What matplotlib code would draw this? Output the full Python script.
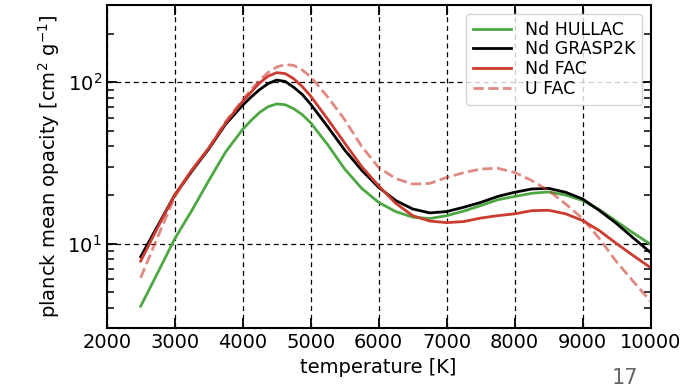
import numpy as np
import matplotlib
matplotlib.use('Agg')
import matplotlib.pyplot as plt
from matplotlib.ticker import LogLocator, NullFormatter

# temperature grid [K] (finer around the main peak)
temps = [2500, 2750, 3000, 3250, 3500, 3750, 4000, 4125, 4250, 4375,
         4500, 4625, 4750, 4875, 5000, 5250, 5500, 5750, 6000, 6250,
         6500, 6750, 7000, 7250, 7500, 7750, 8000, 8250, 8500, 8750,
         9000, 9250, 9500, 9750, 10000]

# planck mean opacity [cm^2 g^-1]
nd_hullac = [4.1, 6.6, 10.7, 16.0, 24.5, 37.0, 51.0, 58.0, 65.0, 70.5,
             73.3, 72.5, 68.5, 63.0, 56.0, 41.0, 29.0, 22.0, 18.0, 15.8,
             14.6, 14.3, 14.9, 15.9, 17.2, 18.7, 19.6, 20.5, 20.9, 20.0,
             18.5, 16.2, 13.7, 11.6, 9.9]
nd_grasp2k = [8.3, 12.9, 20.0, 28.0, 38.5, 55.0, 72.0, 81.0, 90.0, 98.0,
              103.0, 101.0, 93.0, 84.0, 73.0, 53.0, 38.0, 28.5, 22.3, 18.5,
              16.4, 15.5, 15.8, 16.8, 18.0, 19.6, 20.8, 21.8, 22.0, 20.8,
              18.9, 16.0, 13.3, 10.8, 8.8]
nd_fac = [7.8, 12.6, 20.0, 28.5, 39.0, 56.0, 76.0, 87.0, 99.0, 109.0,
          114.5, 113.0, 105.0, 94.0, 82.0, 59.0, 42.0, 30.0, 22.8, 17.8,
          14.9, 13.8, 13.5, 13.7, 14.4, 14.9, 15.3, 16.0, 16.1, 15.3,
          13.9, 12.0, 10.0, 8.4, 7.1]
u_fac = [6.15, 11.0, 19.5, 28.0, 39.0, 57.0, 78.0, 90.0, 103.0, 115.0,
         124.0, 128.5, 127.0, 119.0, 108.0, 81.0, 58.6, 40.0, 29.6, 25.3,
         23.4, 23.6, 25.7, 27.5, 29.0, 29.3, 27.6, 24.6, 21.3, 17.6,
         14.3, 10.7, 7.7, 5.8, 4.4]

fig = plt.figure(figsize=(6.87, 3.92), dpi=100)
ax = fig.add_axes([0.1553, 0.163, 0.7918, 0.824])

ax.plot(temps, nd_hullac, color='#4da743', lw=2, label='Nd HULLAC')
ax.plot(temps, nd_grasp2k, color='black', lw=2, label='Nd GRASP2K')
ax.plot(temps, nd_fac, color='#cc3b2f', lw=2, label='Nd FAC')
ax.plot(temps, u_fac, color='#cc3b2f', lw=2, ls='--', alpha=0.6, label='U FAC')

ax.set_yscale('log')
ax.set_xlim(2000, 10000)
ax.set_ylim(3, 300)
ax.set_xticks(np.arange(2000, 10001, 1000))
ax.yaxis.set_minor_locator(LogLocator(base=10.0, subs=(2, 3, 4, 5, 6, 7, 8, 9), numticks=20))
ax.yaxis.set_minor_formatter(NullFormatter())
ax.grid(True, which='major', ls=(0, (4, 3)), color='black', lw=0.9)

ax.tick_params(axis='both', which='major', direction='in', top=True, right=True,
               labelsize=14, length=7, width=1.3)
ax.tick_params(axis='y', which='minor', direction='in', left=True, right=True,
               length=5, width=1.1)
for sp in ax.spines.values():
    sp.set_linewidth(1.5)

ax.set_xlabel('temperature [K]', fontsize=14)
ax.set_ylabel('planck mean opacity [cm$^2$ g$^{-1}$]', fontsize=14)

ax.legend(loc='upper right', fontsize=12.5, labelspacing=0.1,
          handlelength=2.2, borderpad=0.4, framealpha=0.8)

fig.text(0.89, 0.02, '17', fontsize=15, color='#666666')

fig.savefig('out.png', dpi=100)
